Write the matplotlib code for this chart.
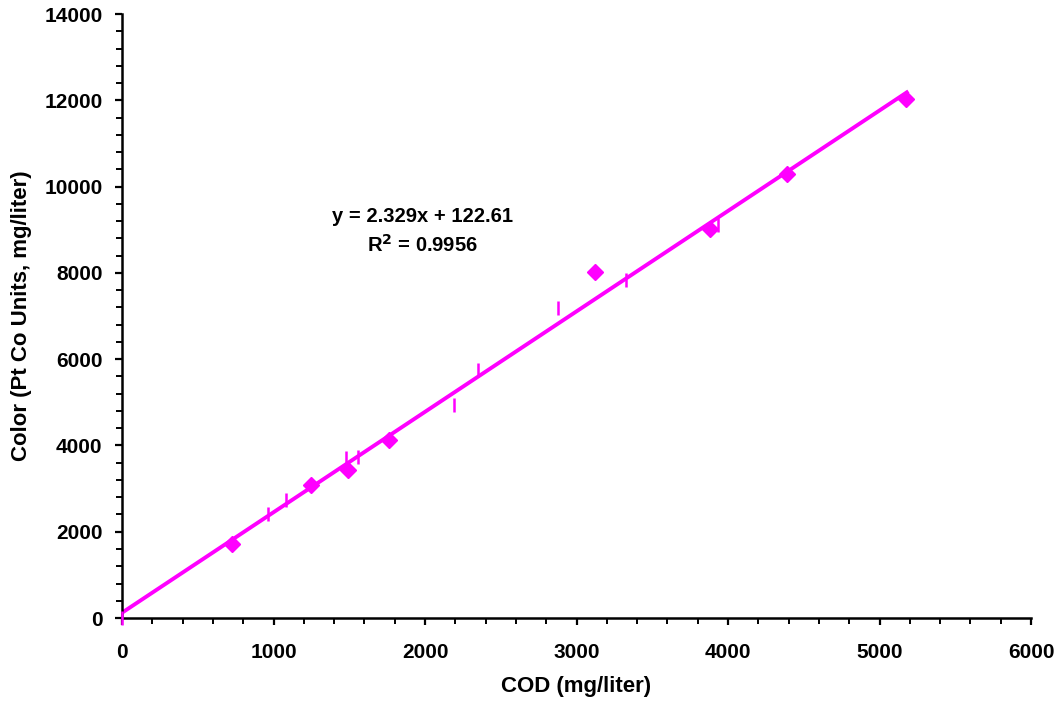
import matplotlib
matplotlib.use("Agg")
import matplotlib.pyplot as plt
from matplotlib.ticker import MultipleLocator
import numpy as np

# series 1 (diamonds)
cod_a = [726, 1248, 1492, 1762, 3122, 3881, 4389, 5175]
color_a = [1715, 3083, 3430, 4126, 8020, 9016, 10291, 12030]

# series 2 (vertical dashes)
cod_b = [0, 964, 1083, 1479, 1558, 2191, 2350, 2878, 3327, 3934]
color_b = [0, 2410, 2735, 3709, 3732, 4937, 5748, 7185, 7834, 9109]

slope = 2.329
intercept = 122.61
fit_x = [0, 5180]

plt.rcParams['font.family'] = ['Liberation Sans', 'DejaVu Sans']
plt.rcParams['font.weight'] = 'bold'

MAGENTA = '#FF00FF'

fig = plt.figure(figsize=(10.64, 7.08), dpi=100)
ax = fig.add_axes([0.1147, 0.1271, 0.969 - 0.1147, 0.980 - 0.1271])

fx = np.array(fit_x)
ax.plot(fx, slope * fx + intercept, color=MAGENTA, linewidth=2.8, zorder=2)
ax.plot(cod_a, color_a, linestyle='none', marker='D', markersize=8.5,
        color=MAGENTA, zorder=3)
ax.plot(cod_b, color_b, linestyle='none', marker='|', markersize=10,
        markeredgewidth=1.8, color=MAGENTA, zorder=3, clip_on=False)

ax.set_xlim(0, 6000)
ax.set_ylim(0, 14000)
ax.xaxis.set_major_locator(MultipleLocator(1000))
ax.xaxis.set_minor_locator(MultipleLocator(200))
ax.yaxis.set_major_locator(MultipleLocator(2000))
ax.yaxis.set_minor_locator(MultipleLocator(400))

for side in ['top', 'right']:
    ax.spines[side].set_visible(False)
for side in ['left', 'bottom']:
    ax.spines[side].set_linewidth(1.8)

ax.tick_params(which='major', direction='out', length=5, width=1.6,
               labelsize=15)
ax.tick_params(which='minor', direction='out', length=4, width=1.4)
ax.tick_params(axis='x', which='major', pad=13)
ax.tick_params(axis='y', which='major', pad=9)
for lbl in ax.get_xticklabels() + ax.get_yticklabels():
    lbl.set_fontweight('bold')

ax.set_xlabel('COD (mg/liter)', fontsize=16, fontweight='bold', labelpad=10)
ax.set_ylabel('Color (Pt Co Units, mg/liter)', fontsize=16, fontweight='bold', labelpad=9)

ax.text(1980, 8970, 'y = 2.329x + 122.61\nR$^{\\mathbf{2}}$ = 0.9956', ha='center', va='center',
        fontsize=14.5, fontweight='bold', linespacing=1.45)

fig.savefig('out.png', dpi=100)
